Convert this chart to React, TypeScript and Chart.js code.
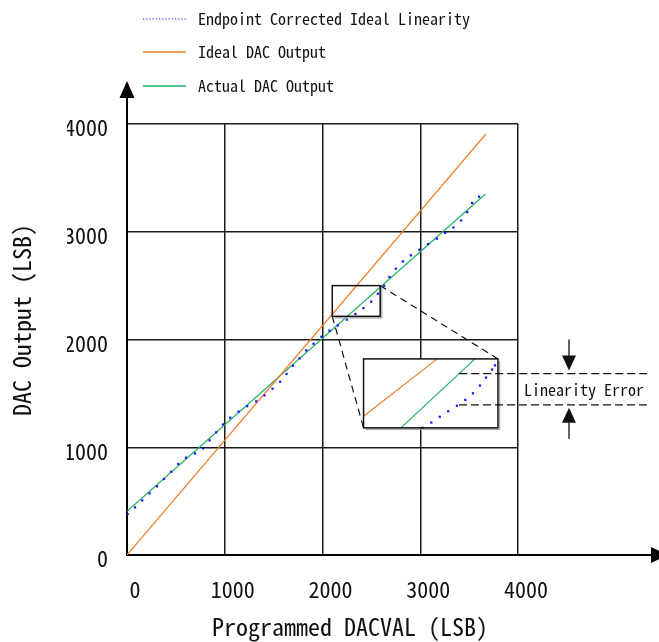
import React, { useEffect, useRef } from 'react';
import { Chart, registerables } from 'chart.js';
Chart.register(...registerables);

// ---------- data ----------
const xTicks = [0, 1000, 2000, 3000, 4000];
const yTicks = [0, 1000, 2000, 3000, 4000];

const legendLabels = ['Endpoint Corrected Ideal Linearity', 'Ideal DAC Output', 'Actual DAC Output'];

const idealX = [0, 3670];
const idealY = [0, 3905];
const actualX = [0, 3667];
const actualY = [405, 3350];

const endpointX = [6, 82, 156, 231, 307, 378, 453, 524, 603, 695, 780, 845, 913, 982, 1056, 1141, 1230, 1322, 1407, 1489, 1567, 1632, 1697, 1765, 1833, 1908, 1989, 2072, 2157, 2249, 2337, 2419, 2498, 2567, 2631, 2685, 2750, 2822, 2904, 2992, 3081, 3170, 3255, 3339, 3418, 3480, 3531, 3602];
const endpointY = [380, 442, 507, 572, 637, 705, 773, 845, 903, 943, 989, 1064, 1138, 1212, 1274, 1330, 1381, 1426, 1481, 1543, 1608, 1680, 1757, 1825, 1899, 1961, 2026, 2082, 2131, 2184, 2237, 2291, 2351, 2425, 2499, 2580, 2657, 2725, 2781, 2833, 2886, 2936, 2989, 3040, 3105, 3182, 3267, 3325];

// zoomed region (main data units) and where the magnified inset sits (main data units)
const zoomX = [2100, 2590];
const zoomY = [2215, 2500];
const insetX = [2420, 3795];
const insetY = [1180, 1820];

// inset content, in inset units (0..1 across the inset box)
const insetIdealU = [0, 0.548];
const insetIdealV = [0.168, 1];
const insetActualU = [0.278, 0.829];
const insetActualV = [0, 1];
const insetDotsU = [0.439, 0.504, 0.567, 0.63, 0.695, 0.757, 0.814, 0.866, 0.911, 0.956, 0.978];
const insetDotsV = [0.0, 0.077, 0.161, 0.241, 0.32, 0.406, 0.501, 0.613, 0.729, 0.845, 0.907];
const errorUpperV = 0.787; // level on actual line in inset
const errorLowerDot = 4; // index of inset dot marking lower level
const annotationText = 'Linearity Error';

const xTitle = 'Programmed DACVAL (LSB)';
const yTitle = 'DAC Output (LSB)';

// ---------- styles ----------
const FONT = '"Noto Sans Mono CJK SC", "Noto Sans CJK SC", "DejaVu Sans Mono", monospace';
const BLUE = '#1717ff';
const ORANGE = '#f07f2c';
const GREEN = '#1db35e';
const INK = '#111111';

const pts = (xs: number[], ys: number[]) => xs.map((v, i) => ({ x: v, y: ys[i] }));
const insetRange = (a: number[], fullMin: number, fullMax: number) => {
  const w = a[1] - a[0];
  return { min: (fullMin - a[0]) / w, max: (fullMax - a[0]) / w };
};

function arrowHead(ctx: CanvasRenderingContext2D, tipX: number, tipY: number, dir: 'up' | 'down' | 'right', len: number, half: number) {
  ctx.beginPath();
  if (dir === 'up') {
    ctx.moveTo(tipX, tipY); ctx.lineTo(tipX - half, tipY + len); ctx.lineTo(tipX + half, tipY + len);
  } else if (dir === 'down') {
    ctx.moveTo(tipX, tipY); ctx.lineTo(tipX - half, tipY - len); ctx.lineTo(tipX + half, tipY - len);
  } else {
    ctx.moveTo(tipX, tipY); ctx.lineTo(tipX - len, tipY - half); ctx.lineTo(tipX - len, tipY + half);
  }
  ctx.closePath();
  ctx.fill();
}

const decorPlugin = {
  id: 'decor',
  beforeDatasetsDraw(chart: any) {
    const { ctx, scales } = chart;
    const x = scales.x, y = scales.y;
    const l = x.getPixelForValue(insetX[0]), r = x.getPixelForValue(insetX[1]);
    const t = y.getPixelForValue(insetY[1]), b = y.getPixelForValue(insetY[0]);
    ctx.save();
    ctx.fillStyle = '#ffffff';
    ctx.fillRect(l, t, r - l, b - t);
    ctx.restore();
  },
  afterDatasetsDraw(chart: any) {
    const { ctx, scales } = chart;
    const x = scales.x, y = scales.y, xi = scales.xi, yi = scales.yi;
    const box = (xs: number[], ys: number[]) => ({
      l: x.getPixelForValue(xs[0]), r: x.getPixelForValue(xs[1]),
      t: y.getPixelForValue(ys[1]), b: y.getPixelForValue(ys[0]),
    });
    const zb = box(zoomX, zoomY);
    const ib = box(insetX, insetY);
    ctx.save();
    // shadows
    ctx.strokeStyle = '#a8a8a8';
    ctx.lineWidth = 1.2;
    [zb, ib].forEach((bx) => {
      ctx.beginPath();
      ctx.moveTo(bx.l + 2, bx.b + 1.6); ctx.lineTo(bx.r + 1.6, bx.b + 1.6); ctx.lineTo(bx.r + 1.6, bx.t + 2);
      ctx.stroke();
    });
    // boxes
    ctx.strokeStyle = INK;
    ctx.lineWidth = 1.5;
    [zb, ib].forEach((bx) => ctx.strokeRect(bx.l, bx.t, bx.r - bx.l, bx.b - bx.t));
    // connectors
    ctx.setLineDash([7, 5]);
    ctx.lineWidth = 1.2;
    ctx.beginPath();
    ctx.moveTo(zb.r, zb.t); ctx.lineTo(ib.r, ib.t);
    ctx.moveTo(zb.l, zb.b); ctx.lineTo(ib.l, ib.b);
    ctx.stroke();

    // linearity error annotation
    const gu = insetActualU[0] + (errorUpperV - insetActualV[0]) / (insetActualV[1] - insetActualV[0]) * (insetActualU[1] - insetActualU[0]);
    const upX = xi.getPixelForValue(gu), upY = yi.getPixelForValue(errorUpperV);
    const loX = xi.getPixelForValue(insetDotsU[errorLowerDot]) + 2, loY = yi.getPixelForValue(insetDotsV[errorLowerDot]) - 1;
    const endX = 647;
    ctx.setLineDash([8, 4]);
    ctx.beginPath();
    ctx.moveTo(upX, upY); ctx.lineTo(endX, upY);
    ctx.moveTo(loX, loY); ctx.lineTo(endX, loY);
    ctx.stroke();
    ctx.setLineDash([]);
    const ax = 569;
    ctx.fillStyle = INK;
    ctx.lineWidth = 1.3;
    ctx.beginPath();
    ctx.moveTo(ax, upY - 34); ctx.lineTo(ax, upY - 15);
    ctx.moveTo(ax, loY + 34); ctx.lineTo(ax, loY + 15);
    ctx.stroke();
    arrowHead(ctx, ax, upY - 3, 'down', 15, 7);
    arrowHead(ctx, ax, loY + 3, 'up', 15, 7);
    ctx.font = `16px ${FONT}`;
    ctx.textAlign = 'center';
    ctx.textBaseline = 'middle';
    ctx.fillText(annotationText, 584, (upY + loY) / 2 + 1);
    ctx.restore();
  },
  afterDraw(chart: any) {
    const { ctx, chartArea } = chart;
    ctx.save();
    // axis arrows
    ctx.strokeStyle = '#000';
    ctx.fillStyle = '#000';
    ctx.lineWidth = 2;
    ctx.beginPath();
    ctx.moveTo(chartArea.left, chartArea.top); ctx.lineTo(chartArea.left, 96);
    ctx.moveTo(chartArea.right, chartArea.bottom); ctx.lineTo(652, chartArea.bottom);
    ctx.stroke();
    arrowHead(ctx, chartArea.left, 81, 'up', 17, 7.5);
    arrowHead(ctx, 668, chartArea.bottom, 'right', 17, 8);

    // legend
    const rows = [18.5, 52, 85.5];
    const mains = chart.data.datasets.filter((d: any) => d.xAxisID === 'x');
    ctx.font = `16px ${FONT}`;
    ctx.textAlign = 'left';
    ctx.textBaseline = 'middle';
    mains.forEach((d: any, i: number) => {
      const yy = rows[i];
      ctx.beginPath();
      ctx.strokeStyle = d.borderColor;
      ctx.globalAlpha = d.showLine === false ? 1 : 0.75;
      ctx.lineWidth = d.showLine === false ? 1.2 : 2;
      ctx.setLineDash(d.showLine === false ? [1.2, 2] : []);
      ctx.moveTo(143, Math.round(yy)); ctx.lineTo(186, Math.round(yy));
      ctx.stroke();
      ctx.globalAlpha = 1;
      ctx.setLineDash([]);
      ctx.fillStyle = INK;
      ctx.fillText(d.label, 198, yy);
    });

    // axis titles
    ctx.font = `24px ${FONT}`;
    ctx.textAlign = 'center';
    ctx.fillStyle = INK;
    ctx.fillText(xTitle, 350, 627);
    ctx.translate(22, 320);
    ctx.rotate(-Math.PI / 2);
    ctx.fillText(yTitle, 0, 0);
    ctx.restore();
  },
};

export default function App() {
  const ref = useRef<HTMLCanvasElement>(null);
  useEffect(() => {
    const canvas = ref.current;
    if (!canvas) return;
    const xr = insetRange(insetX, 0, 4000);
    const yr = insetRange(insetY, 0, 4000);
    const chart = new Chart(canvas, {
      type: 'scatter',
      data: {
        datasets: [
          {
            label: legendLabels[0], data: pts(endpointX, endpointY), showLine: false,
            pointStyle: 'rect', pointRadius: 1.6, pointBorderWidth: 0,
            backgroundColor: BLUE, borderColor: BLUE, xAxisID: 'x', yAxisID: 'y',
          },
          {
            label: legendLabels[1], data: pts(idealX, idealY), showLine: true, pointRadius: 0,
            borderColor: ORANGE, borderWidth: 1.2, xAxisID: 'x', yAxisID: 'y',
          },
          {
            label: legendLabels[2], data: pts(actualX, actualY), showLine: true, pointRadius: 0,
            borderColor: GREEN, borderWidth: 1.2, xAxisID: 'x', yAxisID: 'y',
          },
          {
            label: 'inset endpoint', data: pts(insetDotsU, insetDotsV), showLine: false,
            pointStyle: 'rect', pointRadius: 1.6, pointBorderWidth: 0,
            backgroundColor: BLUE, borderColor: BLUE, xAxisID: 'xi', yAxisID: 'yi', clip: false,
          },
          {
            label: 'inset ideal', data: pts(insetIdealU, insetIdealV), showLine: true, pointRadius: 0,
            borderColor: ORANGE, borderWidth: 1.2, xAxisID: 'xi', yAxisID: 'yi', clip: false,
          },
          {
            label: 'inset actual', data: pts(insetActualU, insetActualV), showLine: true, pointRadius: 0,
            borderColor: GREEN, borderWidth: 1.2, xAxisID: 'xi', yAxisID: 'yi', clip: false,
          },
        ],
      },
      options: {
        responsive: false,
        devicePixelRatio: 1,
        animation: false,
        layout: { padding: { left: 67, right: 141, top: 124, bottom: 37 } },
        plugins: { legend: { display: false }, tooltip: { enabled: false } },
        scales: {
          x: {
            type: 'linear', min: 0, max: 4000,
            afterBuildTicks: (s: any) => { s.ticks = xTicks.map((v) => ({ value: v })); },
            afterFit: (s: any) => { s.height = 50; },
            ticks: {
              callback: (v: any) => String(v), font: { family: FONT, size: 22 }, color: INK,
              padding: 21, labelOffset: 8, maxRotation: 0, autoSkip: false,
            },
            grid: { color: '#1a1a1a', lineWidth: 1.5, drawTicks: false },
            border: { display: true, color: '#000', width: 2 },
          },
          y: {
            type: 'linear', min: 0, max: 4000,
            afterBuildTicks: (s: any) => { s.ticks = yTicks.map((v) => ({ value: v })); },
            afterFit: (s: any) => { s.width = 60; },
            ticks: {
              callback: (v: any) => String(v), font: { family: FONT, size: 22 }, color: INK,
              padding: 19, labelOffset: 4, autoSkip: false,
            },
            grid: { color: '#1a1a1a', lineWidth: 1.5, drawTicks: false },
            border: { display: true, color: '#000', width: 2 },
          },
          xi: { type: 'linear', display: false, min: xr.min, max: xr.max },
          yi: { type: 'linear', display: false, min: yr.min, max: yr.max },
        },
      },
      plugins: [decorPlugin],
    } as any);
    return () => chart.destroy();
  }, []);
  return (
    <div style={{ position: 'fixed', left: 0, top: 0, width: 659, height: 642, background: '#fff' }}>
      <canvas ref={ref} width={659} height={642} style={{ display: 'block' }} />
    </div>
  );
}
